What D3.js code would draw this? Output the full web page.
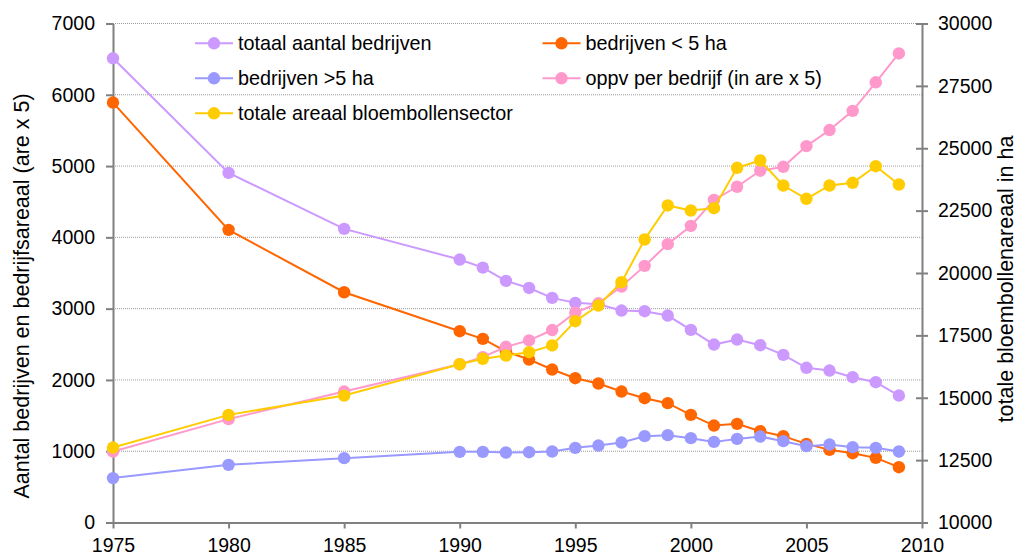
<!DOCTYPE html>
<html>
<head>
<meta charset="utf-8">
<script src="https://cdn.jsdelivr.net/npm/d3@7"></script>
<style>
  body { margin: 0; background: #fff; }
  svg { font-family: "Liberation Sans", Arial, sans-serif; }
  .axis path, .axis line { stroke: #808080; stroke-width: 2; }
  .axis text { font-size: 19.5px; fill: #000; }
  .label { font-size: 21.5px; fill: #000; }
  .legend text { font-size: 19.8px; fill: #000; }
</style>
</head>
<body>
<svg></svg>
<script>
// years on the x axis
var years = [1975, 1980, 1985, 1990, 1991, 1992, 1993, 1994, 1995, 1996, 1997,
  1998, 1999, 2000, 2001, 2002, 2003, 2004, 2005, 2006, 2007, 2008, 2009];

// left axis series
var totaalAantal = [6512, 4904, 4119, 3689, 3576, 3390, 3290, 3151, 3081, 3060, 2973,
  2964, 2903, 2702, 2496, 2567, 2487, 2352, 2170, 2132, 2038, 1968, 1781];
var bedrijvenKlein = [5891, 4105, 3230, 2683, 2576, 2400, 2286, 2146, 2024, 1950, 1837,
  1744, 1674, 1510, 1360, 1384, 1281, 1211, 1103, 1019, 972, 907, 776];
var bedrijvenGroot = [623, 809, 903, 991, 991, 982, 986, 996, 1047, 1080, 1122,
  1211, 1225, 1183, 1131, 1173, 1206, 1141, 1071, 1094, 1057, 1047, 996];
var oppvPerBedrijf = [995, 1450, 1837, 2220, 2320, 2465, 2555, 2700, 2945, 3075, 3310,
  3600, 3905, 4160, 4525, 4710, 4935, 4990, 5280, 5505, 5775, 6175, 6580];

// right axis series
var totaalAreaal = [13004, 14314, 15087, 16345, 16561, 16693, 16826, 17095, 18069, 18697, 19632,
  21343, 22706, 22505, 22598, 24216, 24509, 23507, 22973, 23507, 23615, 24281, 23547];

var xTicks = [1975, 1980, 1985, 1990, 1995, 2000, 2005, 2010];
var leftTicks = [0, 1000, 2000, 3000, 4000, 5000, 6000, 7000];
var rightTicks = [10000, 12500, 15000, 17500, 20000, 22500, 25000, 27500, 30000];

var series = [
  { name: "totaal aantal bedrijven", values: totaalAantal, color: "#CC99FF", axis: "left" },
  { name: "bedrijven < 5 ha", values: bedrijvenKlein, color: "#FF6600", axis: "left" },
  { name: "bedrijven >5 ha", values: bedrijvenGroot, color: "#9999FF", axis: "left" },
  { name: "oppv per bedrijf (in are x 5)", values: oppvPerBedrijf, color: "#FF99CC", axis: "left" },
  { name: "totale areaal bloembollensector", values: totaalAreaal, color: "#FFCC00", axis: "right" }
];

var screen = { width: 1019, height: 555 };
var margins = { left: 113, right: 97, top: 23.5, bottom: 32.5 };

var svg = d3.select("svg").attr("width", screen.width).attr("height", screen.height);

var xScale = d3.scaleLinear().domain([1975, 2010])
  .range([margins.left, screen.width - margins.right]);
var leftScale = d3.scaleLinear().domain([0, 7000])
  .range([screen.height - margins.bottom, margins.top]);
var rightScale = d3.scaleLinear().domain([10000, 30000])
  .range([screen.height - margins.bottom, margins.top]);

var plain = d3.format("d");

// gridlines
svg.append("g")
  .selectAll("line")
  .data(leftTicks.slice(1))
  .enter()
  .append("line")
  .attr("x1", margins.left)
  .attr("x2", screen.width - margins.right)
  .attr("y1", function (d) { return leftScale(d); })
  .attr("y2", function (d) { return leftScale(d); })
  .attr("stroke", "#9a9a9a")
  .attr("stroke-width", 1)
  .attr("stroke-dasharray", "1,1");

// axes
svg.append("g")
  .attr("class", "axis")
  .attr("transform", "translate(0," + (screen.height - margins.bottom) + ")")
  .call(d3.axisBottom(xScale).tickValues(xTicks).tickFormat(plain)
    .tickSize(6).tickSizeOuter(0).tickPadding(10));

svg.append("g")
  .attr("class", "axis")
  .attr("transform", "translate(" + margins.left + ",0)")
  .call(d3.axisLeft(leftScale).tickValues(leftTicks).tickFormat(plain)
    .tickSize(7).tickSizeOuter(0).tickPadding(11));

var rAxis = svg.append("g")
  .attr("class", "axis")
  .attr("transform", "translate(" + (screen.width - margins.right) + ",0)")
  .call(d3.axisRight(rightScale).tickValues(rightTicks).tickFormat(plain)
    .tickSize(6).tickSizeOuter(0).tickPadding(10));
rAxis.selectAll(".tick line").attr("x1", -6);

// lines and markers
var lineLayer = svg.append("g");
series.forEach(function (s) {
  var yScale = s.axis === "left" ? leftScale : rightScale;
  var line = d3.line()
    .x(function (d, i) { return xScale(years[i]); })
    .y(function (d) { return yScale(d); });
  var g = lineLayer.append("g");
  g.append("path")
    .datum(s.values)
    .attr("d", line)
    .attr("fill", "none")
    .attr("stroke", s.color)
    .attr("stroke-width", 2);
  g.selectAll("circle")
    .data(s.values)
    .enter()
    .append("circle")
    .attr("cx", function (d, i) { return xScale(years[i]); })
    .attr("cy", function (d) { return yScale(d); })
    .attr("r", 6.2)
    .attr("fill", s.color);
});

// labels
svg.append("text")
  .attr("class", "label")
  .attr("text-anchor", "middle")
  .attr("transform", "translate(29,296) rotate(-90)")
  .text("Aantal bedrijven en bedrijfsareaal (are x 5)");

svg.append("text")
  .attr("class", "label")
  .attr("text-anchor", "middle")
  .attr("transform", "translate(1013,279) rotate(-90)")
  .text("totale bloembollenareaal in ha");

// legend
var legendPos = [[214, 43.3], [561.5, 43.3], [214, 78.3], [561.5, 78.3], [214, 113.3]];
var legend = svg.append("g").attr("class", "legend");
var entries = legend.selectAll("g")
  .data(series)
  .enter()
  .append("g")
  .attr("transform", function (s, i) {
    return "translate(" + legendPos[i][0] + "," + legendPos[i][1] + ")";
  });
entries.append("line")
  .attr("x1", -19).attr("x2", 19)
  .attr("stroke", function (s) { return s.color; })
  .attr("stroke-width", 2);
entries.append("circle")
  .attr("r", 6.2)
  .attr("fill", function (s) { return s.color; });
entries.append("text")
  .attr("x", 24)
  .attr("y", 7)
  .text(function (s) { return s.name; });
</script>
</body>
</html>
